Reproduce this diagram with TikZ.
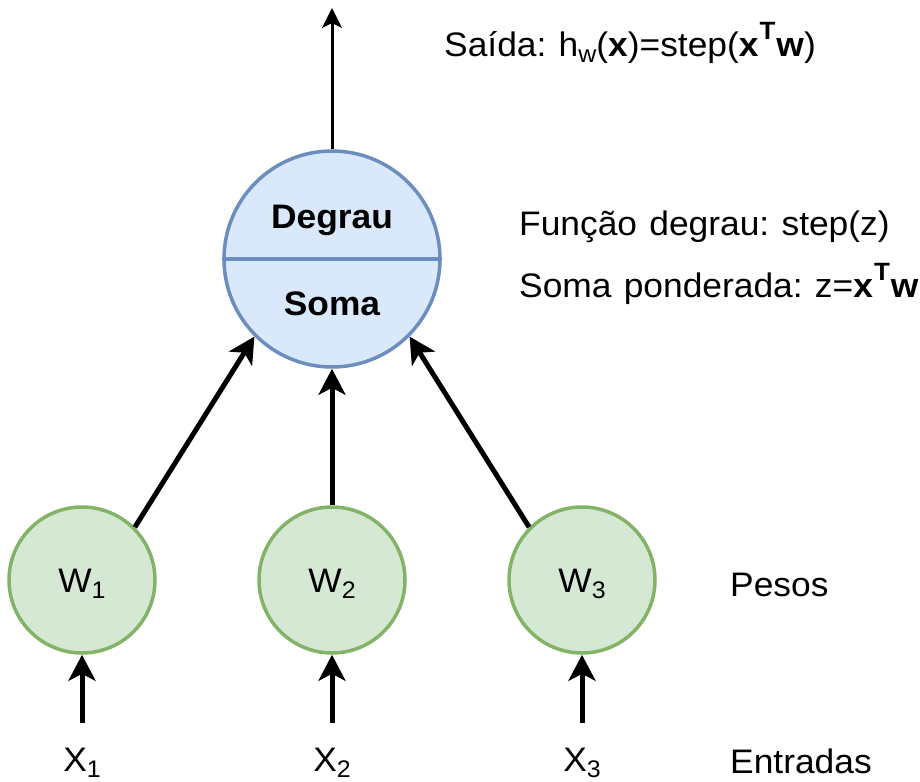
\documentclass[tikz,border=0pt]{standalone}
\usepackage{fontspec}
\setmainfont[FakeStretch=1.04,WordSpace=1.25]{Liberation Sans}
\usetikzlibrary{arrows.meta}
\definecolor{bluefill}{HTML}{DAE8FC}
\definecolor{bluestroke}{HTML}{6C8EBF}
\definecolor{greenfill}{HTML}{D5E8D4}
\definecolor{greenstroke}{HTML}{82B366}
\newcommand{\supT}{\kern1pt\raisebox{17pt}{\fontsize{25}{25}\selectfont\bfseries T}\kern1pt}
\newcommand{\subdig}[1]{\raisebox{-6pt}{\fontsize{24}{24}\selectfont #1}}
\frenchspacing
\begin{document}
\begin{tikzpicture}[x=1pt,y=-1pt,
  every node/.style={font=\fontsize{34}{40}\selectfont, inner sep=0pt, text=black},
  wnode/.style={circle, draw=greenstroke, fill=greenfill, line width=3.5pt, minimum size=146pt},
  sumnode/.style={circle, draw=bluestroke, fill=bluefill, line width=3.5pt, minimum size=216pt},
  lbl/.style={anchor=base west},
  arr/.style={line width=5pt, -{Stealth[length=26pt,width=27pt,inset=7pt]}},
  arrthin/.style={line width=3pt, -{Stealth[length=20pt,width=20pt,inset=5pt]}}]
\useasboundingbox (0,0) rectangle (920,781);

% summation / step neuron
\node[sumnode] (sum) at (332,259) {};
\draw[bluestroke, line width=3.5pt] (sum.west) -- (sum.east);
\node[anchor=base, font=\fontsize{34}{40}\selectfont\bfseries] (deg) at (332,228) {Degrau};
\node[anchor=base, font=\fontsize{34}{40}\selectfont\bfseries] (soma) at (332,315) {Soma};

% weights
\node[wnode] (w1) at (82,580) {};
\node[wnode] (w2) at (332,580) {};
\node[wnode] (w3) at (582,580) {};
\node[anchor=base] (w1t) at (82,592) {W\subdig{1}};
\node[anchor=base] (w2t) at (332,592) {W\subdig{2}};
\node[anchor=base] (w3t) at (582,592) {W\subdig{3}};

% inputs
\node[anchor=base] (x1) at (82,771) {X\subdig{1}};
\node[anchor=base] (x2) at (332,771) {X\subdig{2}};
\node[anchor=base] (x3) at (582,771) {X\subdig{3}};
\coordinate (i1) at (82,723);
\coordinate (i2) at (332,723);
\coordinate (i3) at (582,723);
\coordinate (out) at (332,8);

% connectors
\draw[arr] (i1) -- (w1.south);
\draw[arr] (i2) -- (w2.south);
\draw[arr] (i3) -- (w3.south);
\draw[arr] (w1.north east) -- (sum.south west);
\draw[arr] (w2.north) -- (sum.south);
\draw[arr] (w3.north west) -- (sum.south east);
\draw[arrthin] (sum.north) -- (out);

% side labels
\node[lbl] (said) at (444,57) {Saída: h\subdig{w}(\textbf{x})=step(\textbf{x}\supT\textbf{w})};
\node[lbl] (func) at (519,235) {Função degrau: step(z)};
\node[lbl] (pond) at (519,297) {Soma ponderada: z=\textbf{x}\supT\textbf{w}};
\node[lbl] (pesos) at (730,596) {Pesos};
\node[lbl] (entr) at (730,773) {Entradas};
\end{tikzpicture}
\end{document}
